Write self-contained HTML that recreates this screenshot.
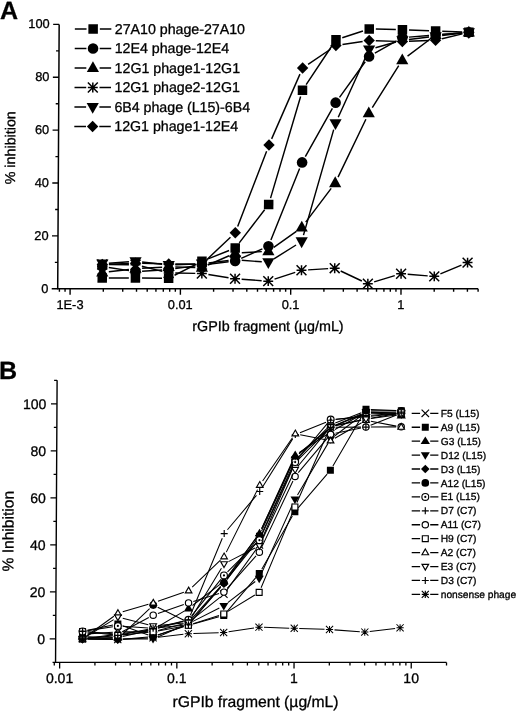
<!DOCTYPE html>
<html><head><meta charset="utf-8"><style>
html,body{margin:0;padding:0;background:#fff;width:520px;height:712px;overflow:hidden}
svg{display:block;filter:grayscale(1)}
text{font-family:"Liberation Sans",sans-serif;fill:#000;stroke:#000;stroke-width:0.3px}
</style></head><body>
<svg width="520" height="712" viewBox="0 0 520 712">
<rect width="520" height="712" fill="#fff"/>
<g transform="matrix(1 0 -0.0055 1 0 0)">
<path d="M59.3 24.4V288.8H479.7" stroke="#000" stroke-width="1.5" fill="none"/>
<path d="M53.3 288.8H59.3M56.3 262.36H59.3M53.3 235.92H59.3M56.3 209.48H59.3M53.3 183.04H59.3M56.3 156.6H59.3M53.3 130.16H59.3M56.3 103.72H59.3M53.3 77.28H59.3M56.3 50.84H59.3M53.3 24.4H59.3M61.01 288.8v3M66.65 288.8v3M71.7 288.8v6M104.9 288.8v3M124.33 288.8v3M138.11 288.8v3M148.8 288.8v3M157.53 288.8v3M164.91 288.8v3M171.31 288.8v3M176.95 288.8v3M182 288.8v6M215.2 288.8v3M234.63 288.8v3M248.41 288.8v3M259.1 288.8v3M267.83 288.8v3M275.21 288.8v3M281.61 288.8v3M287.25 288.8v3M292.3 288.8v6M325.5 288.8v3M344.93 288.8v3M358.71 288.8v3M369.4 288.8v3M378.13 288.8v3M385.51 288.8v3M391.91 288.8v3M397.55 288.8v3M402.6 288.8v6M435.8 288.8v3M455.23 288.8v3M469.01 288.8v3M479.7 288.8v3" stroke="#000" stroke-width="1.4" fill="none"/>
<text x="49.9" y="292.9" font-size="12.8" text-anchor="end">0</text>
<text x="49.9" y="240.02" font-size="12.8" text-anchor="end">20</text>
<text x="49.9" y="187.14" font-size="12.8" text-anchor="end">40</text>
<text x="49.9" y="134.26" font-size="12.8" text-anchor="end">60</text>
<text x="49.9" y="81.38" font-size="12.8" text-anchor="end">80</text>
<text x="49.9" y="28.5" font-size="12.8" text-anchor="end">100</text>
<text x="71.7" y="308.9" font-size="12.8" text-anchor="middle">1E-3</text>
<text x="182" y="308.9" font-size="12.8" text-anchor="middle">0.01</text>
<text x="292.3" y="308.9" font-size="12.8" text-anchor="middle">0.1</text>
<text x="402.6" y="308.9" font-size="12.8" text-anchor="middle">1</text>
<text x="269.8" y="331" font-size="14.3" text-anchor="middle">rGPIb fragment (µg/mL)</text>
<text transform="translate(16 147.75) rotate(-90)" font-size="14.3" text-anchor="middle">% inhibition</text>
<text x="0.1" y="18.7" font-size="25" font-weight="bold">A</text>
<path d="M110.37 277.96L130.37 277.96M143.57 278.01L163.57 278.17M176.06 275.23L197.5 264.3M209.51 258.86L230.45 250.52M240.58 242.83L265.79 209.71M271.63 198.12L301.15 96.57M306.62 84.72L332.57 45.25M342.47 37.69L363.12 30.94M375.99 29.05L396 29.53M409.19 29.95L429.21 30.75M442.4 31.27L462.41 32.07" stroke="#000" stroke-width="1.45" fill="none"/>
<rect x="99.02" y="273.21" width="9.5" height="9.5" fill="#000"/>
<rect x="132.22" y="273.21" width="9.5" height="9.5" fill="#000"/>
<rect x="165.42" y="273.47" width="9.5" height="9.5" fill="#000"/>
<rect x="198.63" y="256.55" width="9.5" height="9.5" fill="#000"/>
<rect x="231.83" y="243.33" width="9.5" height="9.5" fill="#000"/>
<rect x="265.04" y="199.71" width="9.5" height="9.5" fill="#000"/>
<rect x="298.24" y="85.49" width="9.5" height="9.5" fill="#000"/>
<rect x="331.44" y="34.99" width="9.5" height="9.5" fill="#000"/>
<rect x="364.65" y="24.14" width="9.5" height="9.5" fill="#000"/>
<rect x="397.85" y="24.94" width="9.5" height="9.5" fill="#000"/>
<rect x="431.05" y="26.26" width="9.5" height="9.5" fill="#000"/>
<rect x="464.26" y="27.58" width="9.5" height="9.5" fill="#000"/>
<path d="M110.29 267.58L130.45 270.63M143.56 271.19L163.59 269.92M176.72 268.61L196.84 265.89M209.93 264.22L230.03 261.82M242.61 258.35L263.76 248.92M272.22 240.1L300.56 168.55M306.19 156.65L332.99 108.43M340.04 97.3L365.55 61.75M375.14 53.14L396.85 40.87M409.18 37.1L429.22 35.5M442.38 34.45L462.43 32.86" stroke="#000" stroke-width="1.45" fill="none"/>
<circle cx="103.77" cy="266.59" r="5.3" fill="#000"/>
<circle cx="136.97" cy="271.61" r="5.3" fill="#000"/>
<circle cx="170.17" cy="269.5" r="5.3" fill="#000"/>
<circle cx="203.38" cy="265" r="5.3" fill="#000"/>
<circle cx="236.58" cy="261.04" r="5.3" fill="#000"/>
<circle cx="269.79" cy="246.23" r="5.3" fill="#000"/>
<circle cx="302.99" cy="162.42" r="5.3" fill="#000"/>
<circle cx="336.19" cy="102.66" r="5.3" fill="#000"/>
<circle cx="369.4" cy="56.39" r="5.3" fill="#000"/>
<circle cx="402.6" cy="37.62" r="5.3" fill="#000"/>
<circle cx="435.8" cy="34.98" r="5.3" fill="#000"/>
<circle cx="469.01" cy="32.33" r="5.3" fill="#000"/>
<path d="M110.33 271.68L130.41 269.44M143.56 268.34L163.58 267.22M176.77 267.01L196.78 267.49M209.42 265L230.54 255.75M243.17 252.74L263.2 251.62M275.15 247.41L297.62 231.3M306.94 222.17L332.24 188.33M339.03 177.08L366.56 119.2M372.89 107.64L399.1 65.69M407.86 56.11L430.54 38.96M442.38 34.45L462.43 32.86" stroke="#000" stroke-width="1.45" fill="none"/>
<polygon points="103.77,265.71 109.87,276.51 97.67,276.51" fill="#000"/>
<polygon points="136.97,262.01 143.07,272.81 130.87,272.81" fill="#000"/>
<polygon points="170.17,260.16 176.27,270.96 164.07,270.96" fill="#000"/>
<polygon points="203.38,260.95 209.48,271.75 197.28,271.75" fill="#000"/>
<polygon points="236.58,246.41 242.68,257.21 230.48,257.21" fill="#000"/>
<polygon points="269.79,244.56 275.89,255.36 263.69,255.36" fill="#000"/>
<polygon points="302.99,220.76 309.09,231.56 296.89,231.56" fill="#000"/>
<polygon points="336.19,176.34 342.29,187.14 330.09,187.14" fill="#000"/>
<polygon points="369.4,106.54 375.5,117.34 363.3,117.34" fill="#000"/>
<polygon points="402.6,53.4 408.7,64.2 396.5,64.2" fill="#000"/>
<polygon points="435.8,28.28 441.9,39.08 429.7,39.08" fill="#000"/>
<polygon points="469.01,25.64 475.11,36.44 462.91,36.44" fill="#000"/>
<path d="M110.37 264.53L130.37 264.69M143.38 266.32L163.77 271.35M176.77 273.04L196.78 273.36M209.9 274.5L230.06 277.71M243.17 279.22L263.2 280.66M276.06 279.08L296.72 272.34M309.58 269.87L329.61 268.6M342.17 270.98L363.42 280.97M375.71 281.86L396.28 275.64M409.18 274.25L429.22 275.85M441.9 273.85L462.91 265.15" stroke="#000" stroke-width="1.45" fill="none"/>
<path d="M98.82 259.53L108.72 269.43M98.82 269.43L108.72 259.53M103.77 259.53V269.43M98.82 264.48H108.72" stroke="#000" stroke-width="1.5" fill="none"/>
<path d="M132.02 259.79L141.92 269.69M132.02 269.69L141.92 259.79M136.97 259.79V269.69M132.02 264.74H141.92" stroke="#000" stroke-width="1.5" fill="none"/>
<path d="M165.22 267.99L175.12 277.89M165.22 277.89L175.12 267.99M170.17 267.99V277.89M165.22 272.94H175.12" stroke="#000" stroke-width="1.5" fill="none"/>
<path d="M198.43 268.51L208.33 278.41M198.43 278.41L208.33 268.51M203.38 268.51V278.41M198.43 273.46H208.33" stroke="#000" stroke-width="1.5" fill="none"/>
<path d="M231.63 273.8L241.53 283.7M231.63 283.7L241.53 273.8M236.58 273.8V283.7M231.63 278.75H241.53" stroke="#000" stroke-width="1.5" fill="none"/>
<path d="M264.84 276.18L274.74 286.08M264.84 286.08L274.74 276.18M269.79 276.18V286.08M264.84 281.13H274.74" stroke="#000" stroke-width="1.5" fill="none"/>
<path d="M298.04 265.34L307.94 275.24M298.04 275.24L307.94 265.34M302.99 265.34V275.24M298.04 270.29H307.94" stroke="#000" stroke-width="1.5" fill="none"/>
<path d="M331.24 263.23L341.14 273.13M331.24 273.13L341.14 263.23M336.19 263.23V273.13M331.24 268.18H341.14" stroke="#000" stroke-width="1.5" fill="none"/>
<path d="M364.45 278.83L374.35 288.73M364.45 288.73L374.35 278.83M369.4 278.83V288.73M364.45 283.78H374.35" stroke="#000" stroke-width="1.5" fill="none"/>
<path d="M397.65 268.78L407.55 278.68M397.65 278.68L407.55 268.78M402.6 268.78V278.68M397.65 273.73H407.55" stroke="#000" stroke-width="1.5" fill="none"/>
<path d="M430.85 271.42L440.75 281.32M430.85 281.32L440.75 271.42M435.8 271.42V281.32M430.85 276.37H440.75" stroke="#000" stroke-width="1.5" fill="none"/>
<path d="M464.06 257.67L473.96 267.57M464.06 267.57L473.96 257.67M469.01 257.67V267.57M464.06 262.62H473.96" stroke="#000" stroke-width="1.5" fill="none"/>
<path d="M110.35 263.21L130.39 261.77M143.53 262.03L163.62 264.27M176.77 264.74L196.78 263.94M209.93 262.9L230.03 260.5M243.16 260.24L263.21 261.84M275.37 258.85L297.4 244.99M304.77 235.12L334.41 129.64M338.9 117.27L366.69 55.54M375.75 47.75L396.24 42.04M409.15 39.48L429.25 37.08M442.36 35.52L462.45 33.11" stroke="#000" stroke-width="1.45" fill="none"/>
<polygon points="103.77,270.38 109.87,259.58 97.67,259.58" fill="#000"/>
<polygon points="136.97,268 143.07,257.2 130.87,257.2" fill="#000"/>
<polygon points="170.17,271.7 176.27,260.9 164.07,260.9" fill="#000"/>
<polygon points="203.38,270.38 209.48,259.58 197.28,259.58" fill="#000"/>
<polygon points="236.58,266.41 242.68,255.61 230.48,255.61" fill="#000"/>
<polygon points="269.79,269.06 275.89,258.26 263.69,258.26" fill="#000"/>
<polygon points="302.99,248.17 309.09,237.37 296.89,237.37" fill="#000"/>
<polygon points="336.19,129.98 342.29,119.18 330.09,119.18" fill="#000"/>
<polygon points="369.4,56.21 375.5,45.41 363.3,45.41" fill="#000"/>
<polygon points="402.6,46.96 408.7,36.16 396.5,36.16" fill="#000"/>
<polygon points="435.8,42.99 441.9,32.19 429.7,32.19" fill="#000"/>
<polygon points="469.01,39.03 475.11,28.23 462.91,28.23" fill="#000"/>
<path d="M110.36 264.21L130.38 263.42M143.57 263.31L163.58 263.79M176.77 264L196.78 264.16M208.17 259.67L231.79 237.29M238.92 226.57L267.45 151.14M272.4 138.91L300.37 74.09M308.45 64.33L330.73 49.25M342.72 44.56L362.87 41.52M375.99 40.74L396 41.38M409.19 41.32L429.21 40.53M442.22 38.73L462.59 33.87" stroke="#000" stroke-width="1.45" fill="none"/>
<polygon points="103.77,258.78 109.47,264.48 103.77,270.18 98.07,264.48" fill="#000"/>
<polygon points="136.97,257.45 142.67,263.15 136.97,268.85 131.27,263.15" fill="#000"/>
<polygon points="170.17,258.25 175.87,263.95 170.17,269.65 164.47,263.95" fill="#000"/>
<polygon points="203.38,258.51 209.08,264.21 203.38,269.91 197.68,264.21" fill="#000"/>
<polygon points="236.58,227.05 242.28,232.75 236.58,238.45 230.88,232.75" fill="#000"/>
<polygon points="269.79,139.27 275.49,144.97 269.79,150.67 264.09,144.97" fill="#000"/>
<polygon points="302.99,62.33 308.69,68.03 302.99,73.73 297.29,68.03" fill="#000"/>
<polygon points="336.19,39.85 341.89,45.55 336.19,51.25 330.49,45.55" fill="#000"/>
<polygon points="369.4,34.83 375.1,40.53 369.4,46.23 363.7,40.53" fill="#000"/>
<polygon points="402.6,35.89 408.3,41.59 402.6,47.29 396.9,41.59" fill="#000"/>
<polygon points="435.8,34.56 441.5,40.26 435.8,45.96 430.1,40.26" fill="#000"/>
<polygon points="469.01,26.63 474.71,32.33 469.01,38.03 463.31,32.33" fill="#000"/>
<path d="M75 29H86.7M100 29H111.5" stroke="#000" stroke-width="1.5"/>
<rect x="88.55" y="24.25" width="9.5" height="9.5" fill="#000"/>
<text x="115" y="33.9" font-size="14.2">27A10 phage-27A10</text>
<path d="M75 48.5H86.7M100 48.5H111.5" stroke="#000" stroke-width="1.5"/>
<circle cx="93.3" cy="48.5" r="5.3" fill="#000"/>
<text x="115" y="53.4" font-size="14.2">12E4 phage-12E4</text>
<path d="M75 68H86.7M100 68H111.5" stroke="#000" stroke-width="1.5"/>
<polygon points="93.3,61.3 99.4,72.1 87.2,72.1" fill="#000"/>
<text x="115" y="72.9" font-size="14.2">12G1 phage1-12G1</text>
<path d="M75 87.5H86.7M100 87.5H111.5" stroke="#000" stroke-width="1.5"/>
<path d="M88.35 82.55L98.25 92.45M88.35 92.45L98.25 82.55M93.3 82.55V92.45M88.35 87.5H98.25" stroke="#000" stroke-width="1.5" fill="none"/>
<text x="115" y="92.4" font-size="14.2">12G1 phage2-12G1</text>
<path d="M75 107H86.7M100 107H111.5" stroke="#000" stroke-width="1.5"/>
<polygon points="93.3,113.7 99.4,102.9 87.2,102.9" fill="#000"/>
<text x="115" y="111.9" font-size="14.2">6B4 phage (L15)-6B4</text>
<path d="M75 126.5H86.7M100 126.5H111.5" stroke="#000" stroke-width="1.5"/>
<polygon points="93.3,120.8 99,126.5 93.3,132.2 87.6,126.5" fill="#000"/>
<text x="115" y="131.4" font-size="14.2">12G1 phage1-12E4</text>
<path d="M59.2 380.29V662.41H450.18" stroke="#000" stroke-width="1.4" fill="none"/>
<path d="M56.2 662.41H59.2M53.2 638.9H59.2M56.2 615.39H59.2M53.2 591.88H59.2M56.2 568.37H59.2M53.2 544.86H59.2M56.2 521.35H59.2M53.2 497.84H59.2M56.2 474.33H59.2M53.2 450.82H59.2M56.2 427.31H59.2M53.2 403.8H59.2M56.2 380.29H59.2M57.94 662.41v3M63.3 662.41v6M98.58 662.41v3M119.22 662.41v3M133.86 662.41v3M145.22 662.41v3M154.5 662.41v3M162.35 662.41v3M169.14 662.41v3M175.14 662.41v3M180.5 662.41v6M215.78 662.41v3M236.42 662.41v3M251.06 662.41v3M262.42 662.41v3M271.7 662.41v3M279.55 662.41v3M286.34 662.41v3M292.34 662.41v3M297.7 662.41v6M332.98 662.41v3M353.62 662.41v3M368.26 662.41v3M379.62 662.41v3M388.9 662.41v3M396.75 662.41v3M403.54 662.41v3M409.54 662.41v3M414.9 662.41v6M450.18 662.41v3M450.18 662.41v3" stroke="#000" stroke-width="1.3" fill="none"/>
<text x="48.6" y="643.8" font-size="14" text-anchor="end">0</text>
<text x="48.6" y="596.78" font-size="14" text-anchor="end">20</text>
<text x="48.6" y="549.76" font-size="14" text-anchor="end">40</text>
<text x="48.6" y="502.74" font-size="14" text-anchor="end">60</text>
<text x="48.6" y="455.72" font-size="14" text-anchor="end">80</text>
<text x="48.6" y="408.7" font-size="14" text-anchor="end">100</text>
<text x="63.3" y="682.9" font-size="14" text-anchor="middle">0.01</text>
<text x="180.5" y="682.9" font-size="14" text-anchor="middle">0.1</text>
<text x="297.7" y="682.9" font-size="14" text-anchor="middle">1</text>
<text x="414.9" y="682.9" font-size="14" text-anchor="middle">10</text>
<text x="259.4" y="706.7" font-size="15.7" text-anchor="middle">rGPIb fragment (µg/mL)</text>
<text transform="translate(16.4 531.2) rotate(-90)" font-size="15.6" text-anchor="middle">% Inhibition</text>
<text x="1.2" y="378.9" font-size="25" font-weight="bold">B</text>
<path d="M91 633.87L116.31 632.18M126.3 631.85L151.58 631.85M161.41 630.56L187.03 623.73M195.76 619.32L223.23 597.35M230.05 590.16L259.51 548.93M264.39 540.26L295.73 467.17M301.24 459.04L329.44 430.84M337.62 425.45L363.62 415.06M373.26 413.2L398.54 413.2" stroke="#000" stroke-width="1.05" fill="none"/>
<path d="M82.29 630.47L89.74 637.92M82.29 637.92L89.74 630.47" stroke="#000" stroke-width="1.15" fill="none"/>
<path d="M117.57 628.12L125.02 635.57M117.57 635.57L125.02 628.12" stroke="#000" stroke-width="1.15" fill="none"/>
<path d="M152.85 628.12L160.3 635.57M152.85 635.57L160.3 628.12" stroke="#000" stroke-width="1.15" fill="none"/>
<path d="M188.13 618.72L195.58 626.17M188.13 626.17L195.58 618.72" stroke="#000" stroke-width="1.15" fill="none"/>
<path d="M223.41 590.51L230.86 597.96M223.41 597.96L230.86 590.51" stroke="#000" stroke-width="1.15" fill="none"/>
<path d="M258.69 541.13L266.14 548.59M258.69 548.59L266.14 541.13" stroke="#000" stroke-width="1.15" fill="none"/>
<path d="M293.97 458.85L301.43 466.3M293.97 466.3L301.43 458.85" stroke="#000" stroke-width="1.15" fill="none"/>
<path d="M329.26 423.58L336.71 431.03M329.26 431.03L336.71 423.58" stroke="#000" stroke-width="1.15" fill="none"/>
<path d="M364.54 409.48L371.99 416.93M364.54 416.93L371.99 409.48" stroke="#000" stroke-width="1.15" fill="none"/>
<path d="M399.82 409.48L407.27 416.93M399.82 416.93L407.27 409.48" stroke="#000" stroke-width="1.15" fill="none"/>
<path d="M90.91 630.37L116.4 625.1M126.01 625.75L151.86 634.88M161.34 635.03L187.1 626.79M196.67 623.92L222.32 616.74M230.36 611.57L259.2 577.36M264.9 569.2L295.22 516.05M300.94 507.91L329.74 474.14M335.48 466L365.76 413.54M373.26 409.44L398.55 410.62" stroke="#000" stroke-width="1.05" fill="none"/>
<rect x="82.52" y="627.88" width="7" height="7" fill="#000"/>
<rect x="117.8" y="620.59" width="7" height="7" fill="#000"/>
<rect x="153.08" y="633.05" width="7" height="7" fill="#000"/>
<rect x="188.36" y="621.76" width="7" height="7" fill="#000"/>
<rect x="223.64" y="611.89" width="7" height="7" fill="#000"/>
<rect x="258.92" y="570.04" width="7" height="7" fill="#000"/>
<rect x="294.2" y="508.21" width="7" height="7" fill="#000"/>
<rect x="329.48" y="466.83" width="7" height="7" fill="#000"/>
<rect x="364.76" y="405.71" width="7" height="7" fill="#000"/>
<rect x="400.04" y="407.35" width="7" height="7" fill="#000"/>
<path d="M91.01 636.72L116.3 637.56M126.17 636.59L151.71 630.63M160.88 626.95L187.56 611.12M195.81 605.51L223.18 584.36M230.1 577.27L259.46 537.37M264.48 528.78L295.64 459.84M301.87 452.53L328.81 434.77M337.33 429.55L363.91 414.49M373.24 412.53L398.57 415.06" stroke="#000" stroke-width="1.05" fill="none"/>
<polygon points="86.02,631.84 90.67,639.44 81.37,639.44" fill="#000"/>
<polygon points="121.3,633.01 125.95,640.61 116.65,640.61" fill="#000"/>
<polygon points="156.58,624.78 161.23,632.38 151.93,632.38" fill="#000"/>
<polygon points="191.86,603.86 196.51,611.46 187.21,611.46" fill="#000"/>
<polygon points="227.14,576.59 231.79,584.19 222.49,584.19" fill="#000"/>
<polygon points="262.42,528.63 267.07,536.23 257.77,536.23" fill="#000"/>
<polygon points="297.7,450.57 302.35,458.17 293.05,458.17" fill="#000"/>
<polygon points="332.98,427.3 337.63,434.9 328.33,434.9" fill="#000"/>
<polygon points="368.26,407.32 372.91,414.92 363.61,414.92" fill="#000"/>
<polygon points="403.54,410.84 408.19,418.44 398.89,418.44" fill="#000"/>
<path d="M91.02 638.9L116.3 638.9M126.3 638.9L151.58 638.9M161.17 636.91L187.27 625.61M196.32 621.36L222.68 608.01M231.09 602.69L258.46 581.54M264.45 573.91L295.67 503.82M300.23 494.94L330.45 443.38M336.95 436.02L364.29 415.07M373.26 412.2L398.54 413.04" stroke="#000" stroke-width="1.05" fill="none"/>
<polygon points="86.02,643.55 90.52,636.05 81.52,636.05" fill="#000"/>
<polygon points="121.3,643.55 125.8,636.05 116.8,636.05" fill="#000"/>
<polygon points="156.58,643.55 161.08,636.05 152.08,636.05" fill="#000"/>
<polygon points="191.86,628.27 196.36,620.77 187.36,620.77" fill="#000"/>
<polygon points="227.14,610.4 231.64,602.9 222.64,602.9" fill="#000"/>
<polygon points="262.42,583.13 266.92,575.63 257.92,575.63" fill="#000"/>
<polygon points="297.7,503.9 302.2,496.4 293.2,496.4" fill="#000"/>
<polygon points="332.98,443.71 337.48,436.21 328.48,436.21" fill="#000"/>
<polygon points="368.26,416.68 372.76,409.18 363.76,409.18" fill="#000"/>
<polygon points="403.54,417.85 408.04,410.35 399.04,410.35" fill="#000"/>
<path d="M91.01 639L116.3 639.51M126.28 639.17L151.6 636.98M161.32 634.97L187.11 626.37M195.11 621L223.88 587.45M230.1 579.62L259.46 539.72M264.47 531.13L295.65 461.73M301.52 453.94L329.16 430.54M337.57 425.32L363.67 414.02M373.26 412.2L398.54 413.04" stroke="#000" stroke-width="1.05" fill="none"/>
<polygon points="86.02,634.6 90.32,638.9 86.02,643.2 81.72,638.9" fill="#000"/>
<polygon points="121.3,635.31 125.6,639.61 121.3,643.91 117,639.61" fill="#000"/>
<polygon points="156.58,632.25 160.88,636.55 156.58,640.85 152.28,636.55" fill="#000"/>
<polygon points="191.86,620.49 196.16,624.79 191.86,629.09 187.56,624.79" fill="#000"/>
<polygon points="227.14,579.35 231.44,583.65 227.14,587.95 222.84,583.65" fill="#000"/>
<polygon points="262.42,531.39 266.72,535.69 262.42,539.99 258.12,535.69" fill="#000"/>
<polygon points="297.7,452.87 302,457.17 297.7,461.47 293.4,457.17" fill="#000"/>
<polygon points="332.98,423.01 337.28,427.31 332.98,431.61 328.68,427.31" fill="#000"/>
<polygon points="368.26,407.73 372.56,412.03 368.26,416.33 363.96,412.03" fill="#000"/>
<polygon points="403.54,408.9 407.84,413.2 403.54,417.5 399.24,413.2" fill="#000"/>
<path d="M91.01 637.89L116.3 638.73M124.9 635.44L152.97 608.51M161.06 607.26L187.37 620.23M195.18 618.7L223.82 586.45M230.28 578.82L259.28 542.87M264.46 534.42L295.66 464.79M301.24 456.69L329.44 428.49M337.62 423.1L363.62 412.71M373.26 410.85L398.54 410.85" stroke="#000" stroke-width="1.05" fill="none"/>
<circle cx="86.02" cy="637.72" r="3.85" fill="#000"/>
<circle cx="121.3" cy="638.9" r="3.85" fill="#000"/>
<circle cx="156.58" cy="605.05" r="3.85" fill="#000"/>
<circle cx="191.86" cy="622.44" r="3.85" fill="#000"/>
<circle cx="227.14" cy="582.71" r="3.85" fill="#000"/>
<circle cx="262.42" cy="538.98" r="3.85" fill="#000"/>
<circle cx="297.7" cy="460.22" r="3.85" fill="#000"/>
<circle cx="332.98" cy="424.96" r="3.85" fill="#000"/>
<circle cx="368.26" cy="410.85" r="3.85" fill="#000"/>
<circle cx="403.54" cy="410.85" r="3.85" fill="#000"/>
<path d="M90.96 630.62L116.35 626.73M126.29 626.3L151.59 627.99M161.44 627.15L187 621.02M194.97 615.94L224.03 579.34M230.67 571.89L258.88 543.69M264.48 535.6L295.64 466.66M300.89 458.26L329.79 423.4M337.96 419.15L363.28 417.13M373.24 416.23L398.57 413.7" stroke="#000" stroke-width="1.05" fill="none"/>
<circle cx="86.02" cy="631.38" r="3.42" fill="#fff" stroke="#000" stroke-width="1.15"/><circle cx="86.02" cy="631.38" r="1.1" fill="#000"/>
<circle cx="121.3" cy="625.97" r="3.42" fill="#fff" stroke="#000" stroke-width="1.15"/><circle cx="121.3" cy="625.97" r="1.1" fill="#000"/>
<circle cx="156.58" cy="628.32" r="3.42" fill="#fff" stroke="#000" stroke-width="1.15"/><circle cx="156.58" cy="628.32" r="1.1" fill="#000"/>
<circle cx="191.86" cy="619.86" r="3.42" fill="#fff" stroke="#000" stroke-width="1.15"/><circle cx="191.86" cy="619.86" r="1.1" fill="#000"/>
<circle cx="227.14" cy="575.42" r="3.42" fill="#fff" stroke="#000" stroke-width="1.15"/><circle cx="227.14" cy="575.42" r="1.1" fill="#000"/>
<circle cx="262.42" cy="540.16" r="3.42" fill="#fff" stroke="#000" stroke-width="1.15"/><circle cx="262.42" cy="540.16" r="1.1" fill="#000"/>
<circle cx="297.7" cy="462.1" r="3.42" fill="#fff" stroke="#000" stroke-width="1.15"/><circle cx="297.7" cy="462.1" r="1.1" fill="#000"/>
<circle cx="332.98" cy="419.55" r="3.42" fill="#fff" stroke="#000" stroke-width="1.15"/><circle cx="332.98" cy="419.55" r="1.1" fill="#000"/>
<circle cx="368.26" cy="416.73" r="3.42" fill="#fff" stroke="#000" stroke-width="1.15"/><circle cx="368.26" cy="416.73" r="1.1" fill="#000"/>
<circle cx="403.54" cy="413.2" r="3.42" fill="#fff" stroke="#000" stroke-width="1.15"/><circle cx="403.54" cy="413.2" r="1.1" fill="#000"/>
<path d="M91 631.78L116.31 633.8M126.25 633.54L151.62 630.16M161.4 628.18L187.03 621.17M193.75 615.23L225.25 538.2M230.35 529.74L259.21 495.32M265.05 487.24L295.06 438.85M302.33 432.72L328.35 422.14M337.94 419.6L363.31 416.22M373.25 415.22L398.55 413.54" stroke="#000" stroke-width="1.05" fill="none"/>
<path d="M86.02 627.88V634.88M82.52 631.38H89.52" stroke="#000" stroke-width="1.15" fill="none"/>
<path d="M121.3 630.7V637.7M117.8 634.2H124.8" stroke="#000" stroke-width="1.15" fill="none"/>
<path d="M156.58 626V633M153.08 629.5H160.08" stroke="#000" stroke-width="1.15" fill="none"/>
<path d="M191.86 616.36V623.36M188.36 619.86H195.36" stroke="#000" stroke-width="1.15" fill="none"/>
<path d="M227.14 530.08V537.08M223.64 533.58H230.64" stroke="#000" stroke-width="1.15" fill="none"/>
<path d="M262.42 487.99V494.99M258.92 491.49H265.92" stroke="#000" stroke-width="1.15" fill="none"/>
<path d="M297.7 431.1V438.1M294.2 434.6H301.2" stroke="#000" stroke-width="1.15" fill="none"/>
<path d="M332.98 416.76V423.76M329.48 420.26H336.48" stroke="#000" stroke-width="1.15" fill="none"/>
<path d="M368.26 412.05V419.05M364.76 415.55H371.76" stroke="#000" stroke-width="1.15" fill="none"/>
<path d="M403.54 409.7V416.7M400.04 413.2H407.04" stroke="#000" stroke-width="1.15" fill="none"/>
<path d="M90.97 638.24L116.34 634.86M125.7 631.82L152.18 617.53M161.3 613.52L187.13 604.57M196.64 601.46L222.36 593.58M230.45 588.37L259.11 555.9M264.53 547.62L295.59 480.98M300.91 472.61L329.77 438.19M337.88 433.35L363.36 428.09M373.26 427.04L398.54 426.87" stroke="#000" stroke-width="1.05" fill="none"/>
<circle cx="86.02" cy="638.9" r="3.17" fill="#fff" stroke="#000" stroke-width="1.15"/>
<circle cx="121.3" cy="634.2" r="3.17" fill="#fff" stroke="#000" stroke-width="1.15"/>
<circle cx="156.58" cy="615.15" r="3.17" fill="#fff" stroke="#000" stroke-width="1.15"/>
<circle cx="191.86" cy="602.93" r="3.17" fill="#fff" stroke="#000" stroke-width="1.15"/>
<circle cx="227.14" cy="592.12" r="3.17" fill="#fff" stroke="#000" stroke-width="1.15"/>
<circle cx="262.42" cy="552.15" r="3.17" fill="#fff" stroke="#000" stroke-width="1.15"/>
<circle cx="297.7" cy="476.45" r="3.17" fill="#fff" stroke="#000" stroke-width="1.15"/>
<circle cx="332.98" cy="434.36" r="3.17" fill="#fff" stroke="#000" stroke-width="1.15"/>
<circle cx="368.26" cy="427.07" r="3.17" fill="#fff" stroke="#000" stroke-width="1.15"/>
<circle cx="403.54" cy="426.84" r="3.17" fill="#fff" stroke="#000" stroke-width="1.15"/>
<path d="M90.99 638.4L116.32 635.87M126.27 634.88L151.6 632.34M161.49 630.93L186.94 626.18M196.62 623.74L222.38 615.5M231.4 611.37L258.16 594.96M264.33 587.73L295.79 511.63M299.7 502.43L330.98 430.72M337.88 425.15L363.36 420.06M373.18 418.2L398.62 413.62" stroke="#000" stroke-width="1.05" fill="none"/>
<rect x="83.04" y="635.92" width="5.95" height="5.95" fill="#fff" stroke="#000" stroke-width="1.15"/>
<rect x="118.32" y="632.4" width="5.95" height="5.95" fill="#fff" stroke="#000" stroke-width="1.15"/>
<rect x="153.6" y="628.87" width="5.95" height="5.95" fill="#fff" stroke="#000" stroke-width="1.15"/>
<rect x="188.88" y="622.29" width="5.95" height="5.95" fill="#fff" stroke="#000" stroke-width="1.15"/>
<rect x="224.16" y="611" width="5.95" height="5.95" fill="#fff" stroke="#000" stroke-width="1.15"/>
<rect x="259.44" y="589.38" width="5.95" height="5.95" fill="#fff" stroke="#000" stroke-width="1.15"/>
<rect x="294.72" y="504.03" width="5.95" height="5.95" fill="#fff" stroke="#000" stroke-width="1.15"/>
<rect x="330.01" y="423.16" width="5.95" height="5.95" fill="#fff" stroke="#000" stroke-width="1.15"/>
<rect x="365.29" y="416.11" width="5.95" height="5.95" fill="#fff" stroke="#000" stroke-width="1.15"/>
<rect x="400.57" y="409.76" width="5.95" height="5.95" fill="#fff" stroke="#000" stroke-width="1.15"/>
<path d="M90.06 635.96L117.25 616.21M126.09 611.87L151.78 604.34M161.3 601.29L187.13 592.34M195.45 587.23L223.54 560.09M229.35 552.13L260.21 489.63M265.25 481.02L294.87 437.78M302.6 434.64L328.08 439.73M337.31 438.2L363.94 422.76M373.17 421.21L398.63 426.13" stroke="#000" stroke-width="1.05" fill="none"/>
<polygon points="86.02,635.32 89.34,641.09 82.69,641.09" fill="#fff" stroke="#000" stroke-width="1.15"/>
<polygon points="121.3,609.69 124.62,615.47 117.97,615.47" fill="#fff" stroke="#000" stroke-width="1.15"/>
<polygon points="156.58,599.35 159.9,605.12 153.25,605.12" fill="#fff" stroke="#000" stroke-width="1.15"/>
<polygon points="191.86,587.12 195.18,592.9 188.54,592.9" fill="#fff" stroke="#000" stroke-width="1.15"/>
<polygon points="227.14,553.03 230.46,558.81 223.82,558.81" fill="#fff" stroke="#000" stroke-width="1.15"/>
<polygon points="262.42,481.56 265.74,487.34 259.1,487.34" fill="#fff" stroke="#000" stroke-width="1.15"/>
<polygon points="297.7,430.08 301.02,435.85 294.38,435.85" fill="#fff" stroke="#000" stroke-width="1.15"/>
<polygon points="332.98,437.13 336.3,442.91 329.66,442.91" fill="#fff" stroke="#000" stroke-width="1.15"/>
<polygon points="368.26,416.68 371.58,422.45 364.94,422.45" fill="#fff" stroke="#000" stroke-width="1.15"/>
<polygon points="403.54,423.49 406.86,429.27 400.22,429.27" fill="#fff" stroke="#000" stroke-width="1.15"/>
<path d="M90.27 636.27L117.05 619.67M126.14 618.26L151.73 624.74M161.55 625.47L186.88 622.94M194.44 618.16L224.56 568.19M231.59 561.62L257.97 548.08M264.52 541.26L295.6 474.16M300.88 465.77L329.8 430.7M337.86 425.77L363.38 420.16M373.22 418.42L398.59 415.04" stroke="#000" stroke-width="1.05" fill="none"/>
<polygon points="86.02,642.48 89.34,636.71 82.69,636.71" fill="#fff" stroke="#000" stroke-width="1.15"/>
<polygon points="121.3,620.62 124.62,614.84 117.97,614.84" fill="#fff" stroke="#000" stroke-width="1.15"/>
<polygon points="156.58,629.55 159.9,623.77 153.25,623.77" fill="#fff" stroke="#000" stroke-width="1.15"/>
<polygon points="191.86,626.02 195.18,620.25 188.54,620.25" fill="#fff" stroke="#000" stroke-width="1.15"/>
<polygon points="227.14,567.48 230.46,561.71 223.82,561.71" fill="#fff" stroke="#000" stroke-width="1.15"/>
<polygon points="262.42,549.38 265.74,543.61 259.1,543.61" fill="#fff" stroke="#000" stroke-width="1.15"/>
<polygon points="297.7,473.21 301.02,467.43 294.38,467.43" fill="#fff" stroke="#000" stroke-width="1.15"/>
<polygon points="332.98,430.42 336.3,424.65 329.66,424.65" fill="#fff" stroke="#000" stroke-width="1.15"/>
<polygon points="368.26,422.66 371.58,416.89 364.94,416.89" fill="#fff" stroke="#000" stroke-width="1.15"/>
<polygon points="403.54,417.96 406.86,412.19 400.22,412.19" fill="#fff" stroke="#000" stroke-width="1.15"/>
<path d="M90.98 631.94L116.33 634.81M126.2 634.39L151.67 629.3M161.55 627.82L186.88 625.29M195.07 620.96L223.93 586.54M230.05 578.64L259.51 537.41M264.51 528.8L295.61 461.24M301.54 453.5L329.14 430.51M337.98 427.28L363.26 427.11M372.91 425.25L398.89 415.03" stroke="#000" stroke-width="1.05" fill="none"/>
<path d="M86.02 627.88V634.88M82.52 631.38H89.52" stroke="#000" stroke-width="1.15" fill="none"/>
<path d="M121.3 631.87V638.87M117.8 635.37H124.8" stroke="#000" stroke-width="1.15" fill="none"/>
<path d="M156.58 624.82V631.82M153.08 628.32H160.08" stroke="#000" stroke-width="1.15" fill="none"/>
<path d="M191.86 621.29V628.29M188.36 624.79H195.36" stroke="#000" stroke-width="1.15" fill="none"/>
<path d="M227.14 579.21V586.21M223.64 582.71H230.64" stroke="#000" stroke-width="1.15" fill="none"/>
<path d="M262.42 529.84V536.84M258.92 533.34H265.92" stroke="#000" stroke-width="1.15" fill="none"/>
<path d="M297.7 453.2V460.2M294.2 456.7H301.2" stroke="#000" stroke-width="1.15" fill="none"/>
<path d="M332.98 423.81V430.81M329.48 427.31H336.48" stroke="#000" stroke-width="1.15" fill="none"/>
<path d="M368.26 423.57V430.57M364.76 427.07H371.76" stroke="#000" stroke-width="1.15" fill="none"/>
<path d="M403.54 409.7V416.7M400.04 413.2H407.04" stroke="#000" stroke-width="1.15" fill="none"/>
<path d="M91.01 639L116.3 639.51M126.29 639.34L151.58 637.99M161.55 637.16L186.89 634.29M196.86 633.56L222.14 632.72M232.08 631.79L257.48 627.9M267.42 627.31L292.7 628.15M302.7 628.49L327.98 629.33M337.97 629.86L363.27 631.72M373.23 631.49L398.58 628.45" stroke="#000" stroke-width="1.05" fill="none"/>
<path d="M82.42 635.3L89.62 642.5M82.42 642.5L89.62 635.3M86.02 635.3V642.5M82.42 638.9H89.62" stroke="#000" stroke-width="1.0" fill="none"/>
<path d="M117.7 636.01L124.9 643.21M117.7 643.21L124.9 636.01M121.3 636.01V643.21M117.7 639.61H124.9" stroke="#000" stroke-width="1.0" fill="none"/>
<path d="M152.98 634.12L160.18 641.32M152.98 641.32L160.18 634.12M156.58 634.12V641.32M152.98 637.72H160.18" stroke="#000" stroke-width="1.0" fill="none"/>
<path d="M188.26 630.13L195.46 637.33M188.26 637.33L195.46 630.13M191.86 630.13V637.33M188.26 633.73H195.46" stroke="#000" stroke-width="1.0" fill="none"/>
<path d="M223.54 628.95L230.74 636.15M223.54 636.15L230.74 628.95M227.14 628.95V636.15M223.54 632.55H230.74" stroke="#000" stroke-width="1.0" fill="none"/>
<path d="M258.82 623.54L266.02 630.75M258.82 630.75L266.02 623.54M262.42 623.54V630.75M258.82 627.14H266.02" stroke="#000" stroke-width="1.0" fill="none"/>
<path d="M294.1 624.72L301.3 631.92M294.1 631.92L301.3 624.72M297.7 624.72V631.92M294.1 628.32H301.3" stroke="#000" stroke-width="1.0" fill="none"/>
<path d="M329.38 625.9L336.58 633.1M329.38 633.1L336.58 625.9M332.98 625.9V633.1M329.38 629.5H336.58" stroke="#000" stroke-width="1.0" fill="none"/>
<path d="M364.66 628.48L371.86 635.68M364.66 635.68L371.86 628.48M368.26 628.48V635.68M364.66 632.08H371.86" stroke="#000" stroke-width="1.0" fill="none"/>
<path d="M399.94 624.25L407.14 631.45M399.94 631.45L407.14 624.25M403.54 624.25V631.45M399.94 627.85H407.14" stroke="#000" stroke-width="1.0" fill="none"/>
<path d="M413.97 413.3H422.37M432.47 413.3H440.67" stroke="#000" stroke-width="1.3"/>
<path d="M423.85 409.57L431.3 417.03M423.85 417.03L431.3 409.57" stroke="#000" stroke-width="1.15" fill="none"/>
<text x="443.07" y="416.9" font-size="10.2">F5 (L15)</text>
<path d="M414.05 427.23H422.45M432.55 427.23H440.75" stroke="#000" stroke-width="1.3"/>
<rect x="424.15" y="423.73" width="7" height="7" fill="#000"/>
<text x="443.15" y="430.83" font-size="10.2">A9 (L15)</text>
<path d="M414.13 441.16H422.53M432.63 441.16H440.83" stroke="#000" stroke-width="1.3"/>
<polygon points="427.73,436.45 432.38,444.05 423.08,444.05" fill="#000"/>
<text x="443.23" y="444.76" font-size="10.2">G3 (L15)</text>
<path d="M414.2 455.09H422.6M432.7 455.09H440.9" stroke="#000" stroke-width="1.3"/>
<polygon points="427.8,459.74 432.3,452.24 423.3,452.24" fill="#000"/>
<text x="443.3" y="458.69" font-size="10.2">D12 (L15)</text>
<path d="M414.28 469.02H422.68M432.78 469.02H440.98" stroke="#000" stroke-width="1.3"/>
<polygon points="427.88,464.72 432.18,469.02 427.88,473.32 423.58,469.02" fill="#000"/>
<text x="443.38" y="472.62" font-size="10.2">D3 (L15)</text>
<path d="M414.36 482.95H422.76M432.86 482.95H441.06" stroke="#000" stroke-width="1.3"/>
<circle cx="427.96" cy="482.95" r="3.85" fill="#000"/>
<text x="443.46" y="486.55" font-size="10.2">A12 (L15)</text>
<path d="M414.43 496.88H422.83M432.93 496.88H441.13" stroke="#000" stroke-width="1.3"/>
<circle cx="428.03" cy="496.88" r="3.42" fill="#fff" stroke="#000" stroke-width="1.15"/><circle cx="428.03" cy="496.88" r="1.1" fill="#000"/>
<text x="443.53" y="500.48" font-size="10.2">E1 (L15)</text>
<path d="M414.51 510.81H422.91M433.01 510.81H441.21" stroke="#000" stroke-width="1.3"/>
<path d="M428.11 507.31V514.31M424.61 510.81H431.61" stroke="#000" stroke-width="1.15" fill="none"/>
<text x="443.61" y="514.41" font-size="10.2">D7 (C7)</text>
<path d="M414.59 524.74H422.99M433.09 524.74H441.29" stroke="#000" stroke-width="1.3"/>
<circle cx="428.19" cy="524.74" r="3.17" fill="#fff" stroke="#000" stroke-width="1.15"/>
<text x="443.69" y="528.34" font-size="10.2">A11 (C7)</text>
<path d="M414.66 538.67H423.06M433.16 538.67H441.36" stroke="#000" stroke-width="1.3"/>
<rect x="425.29" y="535.7" width="5.95" height="5.95" fill="#fff" stroke="#000" stroke-width="1.15"/>
<text x="443.76" y="542.27" font-size="10.2">H9 (C7)</text>
<path d="M414.74 552.6H423.14M433.24 552.6H441.44" stroke="#000" stroke-width="1.3"/>
<polygon points="428.34,549.02 431.66,554.79 425.02,554.79" fill="#fff" stroke="#000" stroke-width="1.15"/>
<text x="443.84" y="556.2" font-size="10.2">A2 (C7)</text>
<path d="M414.82 566.53H423.22M433.32 566.53H441.52" stroke="#000" stroke-width="1.3"/>
<polygon points="428.42,570.11 431.74,564.34 425.09,564.34" fill="#fff" stroke="#000" stroke-width="1.15"/>
<text x="443.92" y="570.13" font-size="10.2">E3 (C7)</text>
<path d="M414.89 580.46H423.29M433.39 580.46H441.59" stroke="#000" stroke-width="1.3"/>
<path d="M428.49 576.96V583.96M424.99 580.46H431.99" stroke="#000" stroke-width="1.15" fill="none"/>
<text x="443.99" y="584.06" font-size="10.2">D3 (C7)</text>
<path d="M414.97 594.39H423.37M433.47 594.39H441.67" stroke="#000" stroke-width="1.3"/>
<path d="M425.04 590.87L432.09 597.91M425.04 597.91L432.09 590.87M428.57 590.87V597.91M425.04 594.39H432.09" stroke="#000" stroke-width="1.15" fill="none"/>
<text x="444.07" y="597.99" font-size="10.2">nonsense phage</text>
</g>
</svg>
</body></html>
